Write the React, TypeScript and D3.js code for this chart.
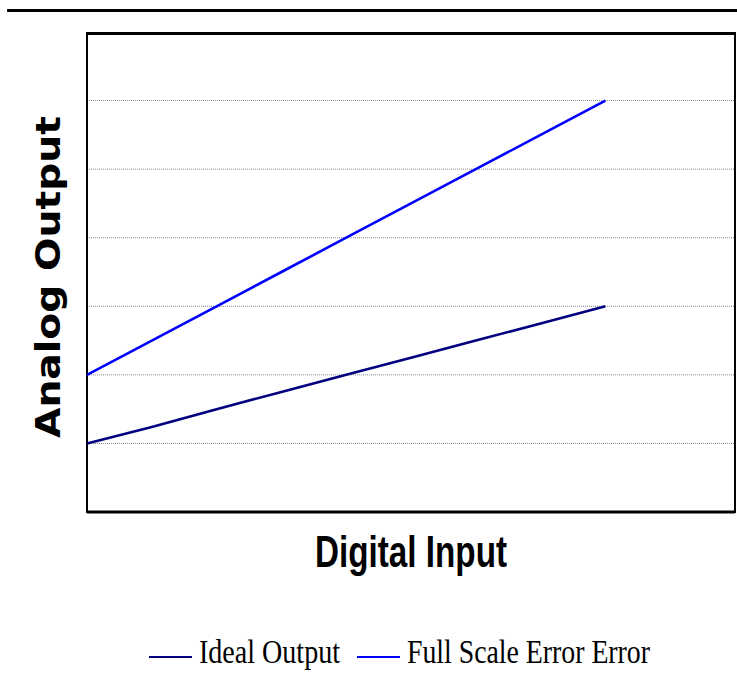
import React from "react";
import * as d3 from "d3";

const xValues = [0, 1, 2, 3, 4, 5, 6, 7, 8];
const idealOutput = [1.0, 1.24, 1.5, 1.75, 2.0, 2.25, 2.5, 2.75, 3.0];
const fullScaleError = [2.0, 2.5, 3.0, 3.5, 4.0, 4.5, 5.0, 5.5, 6.0];
const gridValues = [1, 2, 3, 4, 5, 6];
const seriesNames = ["Ideal Output", "Full Scale Error Error"];
const seriesColors = ["#000080", "#0000FF"];

export default function App() {
  const W = 737, H = 677;
  const left = 87, right = 735, top = 32, bottom = 512;
  const x = d3.scaleLinear().domain([0, 10]).range([left, right]);
  const y = d3.scaleLinear().domain([0, 7]).range([bottom, top]);
  const line = d3
    .line<number>()
    .x((_, i) => x(xValues[i]))
    .y((d) => y(d));
  const series = [idealOutput, fullScaleError];

  return (
    <svg
      width={W}
      height={H}
      style={{ position: "absolute", left: 0, top: 0, background: "#fff" }}
    >
      <line x1={7} x2={737} y1={10.5} y2={10.5} stroke="#000" strokeWidth={3} />
      {gridValues.map((g) => (
        <line
          key={g}
          x1={left}
          x2={right}
          y1={y(g)}
          y2={y(g)}
          stroke="#888"
          strokeWidth={1}
          strokeDasharray="1,1"
        />
      ))}
      <rect
        x={left}
        y={top + 1}
        width={right - left}
        height={bottom - top - 1}
        fill="none"
        stroke="#000"
        strokeWidth={2}
      />
      <line x1={left} x2={right} y1={top + 1.5} y2={top + 1.5} stroke="#000" strokeWidth={3} />
      <line x1={left} x2={right} y1={bottom} y2={bottom} stroke="#000" strokeWidth={3} />
      {series.map((s, i) => (
        <path
          key={i}
          d={line(s) || ""}
          fill="none"
          stroke={seriesColors[i]}
          strokeWidth={2.6}
        />
      ))}
      <text
        transform={`translate(60, 277) rotate(-90)`}
        textAnchor="middle"
        fontFamily="'DejaVu Sans', Verdana, sans-serif"
        fontWeight="bold"
        fontSize={33}
        textLength={322}
        lengthAdjust="spacingAndGlyphs"
      >
        Analog Output
      </text>
      <text
        x={411}
        y={567}
        textAnchor="middle"
        fontFamily="'Liberation Sans Narrow', 'Liberation Sans', Arial, sans-serif"
        fontWeight="bold"
        fontSize={44}
        textLength={192}
        lengthAdjust="spacingAndGlyphs"
      >
        Digital Input
      </text>
      {seriesNames.map((n, i) => {
        const lx = i === 0 ? 149 : 357;
        const tw = i === 0 ? 141 : 243;
        return (
          <g key={n}>
            <line
              x1={lx}
              x2={lx + 43}
              y1={657}
              y2={657}
              stroke={seriesColors[i]}
              strokeWidth={2}
            />
            <text
              x={lx + 50}
              y={663}
              fontFamily="'Liberation Serif', 'Times New Roman', serif"
              fontSize={34}
              textLength={tw}
              lengthAdjust="spacingAndGlyphs"
            >
              {n}
            </text>
          </g>
        );
      })}
    </svg>
  );
}
